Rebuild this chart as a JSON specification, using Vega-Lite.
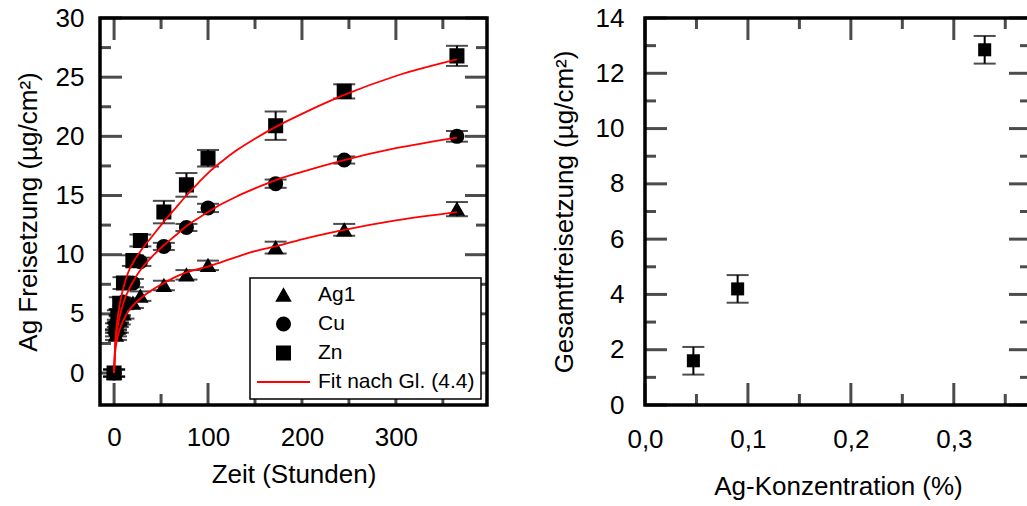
{
  "$schema": "https://vega.github.io/schema/vega-lite/v6.json",
  "padding": {"left": 13, "top": 3, "right": 0, "bottom": 0},
  "background": "white",
  "config": {
    "font": "Liberation Sans",
    "view": {"stroke": "black", "strokeWidth": 3.5},
    "axis": {
      "labelFont": "Liberation Sans", "titleFont": "Liberation Sans",
      "labelFontSize": 26, "titleFontSize": 26, "titleFontWeight": "normal",
      "labelColor": "black", "titleColor": "black",
      "domain": false, "grid": false, "ticks": false, "tickSize": 0,
      "labelFlush": false, "labelOverlap": false
    },
    "legend": {
      "labelFont": "Liberation Sans", "labelFontSize": 21, "labelColor": "black",
      "orient": "bottom-right", "offset": 6, "padding": 6, "rowPadding": 7, "clipHeight": 22,
      "labelOffset": 7, "strokeColor": "black", "fillColor": "white",
      "symbolStrokeWidth": 2, "strokeWidth": 1.5
    }
  },
  "datasets": {
    "pts": [
      {"series": "Zn", "t": 0, "y": 0, "lo": -0.3, "hi": 0.3},
      {"series": "Zn", "t": 2, "y": 3.8, "lo": 3.4, "hi": 4.2},
      {"series": "Zn", "t": 4, "y": 4.8, "lo": 4.3, "hi": 5.3},
      {"series": "Zn", "t": 6, "y": 5.9, "lo": 5.4, "hi": 6.4},
      {"series": "Zn", "t": 10, "y": 7.6, "lo": 7.1, "hi": 8.1},
      {"series": "Zn", "t": 20, "y": 9.5, "lo": 9.05, "hi": 9.95},
      {"series": "Zn", "t": 28, "y": 11.2, "lo": 10.7, "hi": 11.7},
      {"series": "Zn", "t": 53, "y": 13.6, "lo": 12.65, "hi": 14.55},
      {"series": "Zn", "t": 77, "y": 15.9, "lo": 14.9, "hi": 16.9},
      {"series": "Zn", "t": 100, "y": 18.15, "lo": 17.45, "hi": 18.85},
      {"series": "Zn", "t": 172, "y": 20.9, "lo": 19.7, "hi": 22.1},
      {"series": "Zn", "t": 245, "y": 23.8, "lo": 23.2, "hi": 24.4},
      {"series": "Zn", "t": 365, "y": 26.8, "lo": 25.95, "hi": 27.65},
      {"series": "Cu", "t": 0, "y": 0, "lo": -0.3, "hi": 0.3},
      {"series": "Cu", "t": 2, "y": 3.4, "lo": 3.1, "hi": 3.7},
      {"series": "Cu", "t": 4, "y": 4.2, "lo": 3.9, "hi": 4.5},
      {"series": "Cu", "t": 6, "y": 5.1, "lo": 4.8, "hi": 5.4},
      {"series": "Cu", "t": 10, "y": 6.0, "lo": 5.7, "hi": 6.3},
      {"series": "Cu", "t": 20, "y": 7.6, "lo": 7.25, "hi": 7.95},
      {"series": "Cu", "t": 28, "y": 9.4, "lo": 9.05, "hi": 9.75},
      {"series": "Cu", "t": 53, "y": 10.7, "lo": 10.4, "hi": 11.0},
      {"series": "Cu", "t": 77, "y": 12.3, "lo": 12.0, "hi": 12.6},
      {"series": "Cu", "t": 100, "y": 13.95, "lo": 13.6, "hi": 14.3},
      {"series": "Cu", "t": 172, "y": 16.0, "lo": 15.65, "hi": 16.35},
      {"series": "Cu", "t": 245, "y": 18.0, "lo": 17.7, "hi": 18.3},
      {"series": "Cu", "t": 365, "y": 20.0, "lo": 19.55, "hi": 20.45},
      {"series": "Ag1", "t": 0, "y": 0, "lo": -0.3, "hi": 0.3},
      {"series": "Ag1", "t": 2, "y": 3.2, "lo": 2.8, "hi": 3.6},
      {"series": "Ag1", "t": 4, "y": 3.8, "lo": 3.4, "hi": 4.2},
      {"series": "Ag1", "t": 6, "y": 4.5, "lo": 4.1, "hi": 4.9},
      {"series": "Ag1", "t": 10, "y": 5.0, "lo": 4.6, "hi": 5.4},
      {"series": "Ag1", "t": 20, "y": 5.9, "lo": 5.5, "hi": 6.3},
      {"series": "Ag1", "t": 28, "y": 6.5, "lo": 6.1, "hi": 6.9},
      {"series": "Ag1", "t": 53, "y": 7.4, "lo": 7.0, "hi": 7.8},
      {"series": "Ag1", "t": 77, "y": 8.3, "lo": 7.9, "hi": 8.7},
      {"series": "Ag1", "t": 100, "y": 9.1, "lo": 8.7, "hi": 9.5},
      {"series": "Ag1", "t": 172, "y": 10.6, "lo": 10.1, "hi": 11.1},
      {"series": "Ag1", "t": 245, "y": 12.1, "lo": 11.6, "hi": 12.6},
      {"series": "Ag1", "t": 365, "y": 13.85, "lo": 13.25, "hi": 14.45}
    ],
    "fit": [
      {"series": "Zn", "t": 0, "y": 0}, {"series": "Zn", "t": 1, "y": 2.3}, {"series": "Zn", "t": 2, "y": 3.4},
      {"series": "Zn", "t": 4, "y": 4.8}, {"series": "Zn", "t": 6, "y": 5.8}, {"series": "Zn", "t": 8, "y": 6.6},
      {"series": "Zn", "t": 12, "y": 7.8}, {"series": "Zn", "t": 16, "y": 8.7}, {"series": "Zn", "t": 20, "y": 9.3},
      {"series": "Zn", "t": 28, "y": 10.3}, {"series": "Zn", "t": 40, "y": 11.5}, {"series": "Zn", "t": 53, "y": 12.8},
      {"series": "Zn", "t": 65, "y": 13.9}, {"series": "Zn", "t": 77, "y": 15.0}, {"series": "Zn", "t": 90, "y": 16.1},
      {"series": "Zn", "t": 100, "y": 16.9}, {"series": "Zn", "t": 115, "y": 17.9}, {"series": "Zn", "t": 130, "y": 18.8},
      {"series": "Zn", "t": 150, "y": 19.8}, {"series": "Zn", "t": 172, "y": 20.8}, {"series": "Zn", "t": 200, "y": 21.9},
      {"series": "Zn", "t": 245, "y": 23.5}, {"series": "Zn", "t": 300, "y": 25.1}, {"series": "Zn", "t": 365, "y": 26.5},
      {"series": "Cu", "t": 0, "y": 0}, {"series": "Cu", "t": 1, "y": 2.0}, {"series": "Cu", "t": 2, "y": 2.9},
      {"series": "Cu", "t": 4, "y": 4.0}, {"series": "Cu", "t": 6, "y": 4.8}, {"series": "Cu", "t": 8, "y": 5.4},
      {"series": "Cu", "t": 12, "y": 6.4}, {"series": "Cu", "t": 16, "y": 7.1}, {"series": "Cu", "t": 20, "y": 7.7},
      {"series": "Cu", "t": 28, "y": 8.7}, {"series": "Cu", "t": 40, "y": 9.8}, {"series": "Cu", "t": 53, "y": 10.8},
      {"series": "Cu", "t": 65, "y": 11.6}, {"series": "Cu", "t": 77, "y": 12.4}, {"series": "Cu", "t": 90, "y": 13.1},
      {"series": "Cu", "t": 100, "y": 13.6}, {"series": "Cu", "t": 115, "y": 14.3}, {"series": "Cu", "t": 130, "y": 14.9},
      {"series": "Cu", "t": 150, "y": 15.6}, {"series": "Cu", "t": 172, "y": 16.3}, {"series": "Cu", "t": 200, "y": 17.0},
      {"series": "Cu", "t": 245, "y": 18.0}, {"series": "Cu", "t": 300, "y": 19.0}, {"series": "Cu", "t": 365, "y": 19.9},
      {"series": "Ag1", "t": 0, "y": 0}, {"series": "Ag1", "t": 1, "y": 1.6}, {"series": "Ag1", "t": 2, "y": 2.3},
      {"series": "Ag1", "t": 4, "y": 3.1}, {"series": "Ag1", "t": 6, "y": 3.7}, {"series": "Ag1", "t": 8, "y": 4.1},
      {"series": "Ag1", "t": 12, "y": 4.8}, {"series": "Ag1", "t": 16, "y": 5.3}, {"series": "Ag1", "t": 20, "y": 5.7},
      {"series": "Ag1", "t": 28, "y": 6.3}, {"series": "Ag1", "t": 40, "y": 7.0}, {"series": "Ag1", "t": 53, "y": 7.6},
      {"series": "Ag1", "t": 65, "y": 8.1}, {"series": "Ag1", "t": 77, "y": 8.5}, {"series": "Ag1", "t": 90, "y": 8.8},
      {"series": "Ag1", "t": 100, "y": 9.0}, {"series": "Ag1", "t": 115, "y": 9.4}, {"series": "Ag1", "t": 130, "y": 9.8},
      {"series": "Ag1", "t": 150, "y": 10.3}, {"series": "Ag1", "t": 172, "y": 10.7}, {"series": "Ag1", "t": 200, "y": 11.3},
      {"series": "Ag1", "t": 245, "y": 12.1}, {"series": "Ag1", "t": 300, "y": 12.9}, {"series": "Ag1", "t": 365, "y": 13.6}
    ],
    "conc": [
      {"c": 0.047, "y": 1.6, "lo": 1.1, "hi": 2.1},
      {"c": 0.09, "y": 4.2, "lo": 3.7, "hi": 4.7},
      {"c": 0.33, "y": 12.85, "lo": 12.35, "hi": 13.35}
    ],
    "xMajL": [{"v": 0}, {"v": 100}, {"v": 200}, {"v": 300}],
    "xMinL": [{"v": 50}, {"v": 150}, {"v": 250}, {"v": 350}],
    "yMajL": [{"v": 0}, {"v": 5}, {"v": 10}, {"v": 15}, {"v": 20}, {"v": 25}, {"v": 30}],
    "yMinL": [{"v": 2.5}, {"v": 7.5}, {"v": 12.5}, {"v": 17.5}, {"v": 22.5}, {"v": 27.5}],
    "xMajR": [{"v": 0}, {"v": 0.1}, {"v": 0.2}, {"v": 0.3}],
    "xMinR": [{"v": 0.05}, {"v": 0.15}, {"v": 0.25}, {"v": 0.35}],
    "yMajR": [{"v": 0}, {"v": 2}, {"v": 4}, {"v": 6}, {"v": 8}, {"v": 10}, {"v": 12}, {"v": 14}],
    "yMinR": [{"v": 1}, {"v": 3}, {"v": 5}, {"v": 7}, {"v": 9}, {"v": 11}, {"v": 13}]
  },
  "resolve": {
    "scale": {"fill": "independent", "stroke": "independent", "shape": "independent", "size": "independent"},
    "legend": {"fill": "independent", "stroke": "independent", "shape": "independent", "size": "independent"}
  },
  "spacing": 60,
  "hconcat": [
    {
      "width": 387,
      "height": 387,
      "layer": [
        {
          "data": {"name": "pts"},
          "mark": {"type": "rule", "color": "black", "strokeWidth": 2},
          "encoding": {
            "x": {"field": "t", "type": "quantitative", "scale": {"domain": [-15, 397], "nice": false, "zero": false},
                  "axis": {"orient": "bottom", "values": [0, 100, 200, 300], "labelPadding": 19, "title": "Zeit (Stunden)", "titlePadding": 11}},
            "y": {"field": "lo", "type": "quantitative", "scale": {"domain": [-2.7, 30], "nice": false, "zero": false},
                  "axis": {"orient": "left", "values": [0, 5, 10, 15, 20, 25, 30], "labelPadding": 16, "title": "Ag Freisetzung (µg/cm²)", "titlePadding": 14}},
            "y2": {"field": "hi"}
          }
        },
        {"data": {"name": "xMajL"}, "mark": {"type": "tick", "orient": "vertical", "color": "black", "size": 22, "thickness": 3, "yOffset": -11},
         "encoding": {"x": {"field": "v", "type": "quantitative"}, "y": {"datum": -2.7, "type": "quantitative"}}},
        {"data": {"name": "xMajL"}, "mark": {"type": "tick", "orient": "vertical", "color": "black", "size": 22, "thickness": 3, "yOffset": 11},
         "encoding": {"x": {"field": "v", "type": "quantitative"}, "y": {"datum": 30, "type": "quantitative"}}},
        {"data": {"name": "xMinL"}, "mark": {"type": "tick", "orient": "vertical", "color": "black", "size": 11, "thickness": 3, "yOffset": -5.5},
         "encoding": {"x": {"field": "v", "type": "quantitative"}, "y": {"datum": -2.7, "type": "quantitative"}}},
        {"data": {"name": "xMinL"}, "mark": {"type": "tick", "orient": "vertical", "color": "black", "size": 11, "thickness": 3, "yOffset": 5.5},
         "encoding": {"x": {"field": "v", "type": "quantitative"}, "y": {"datum": 30, "type": "quantitative"}}},
        {"data": {"name": "yMajL"}, "mark": {"type": "tick", "orient": "horizontal", "color": "black", "size": 22, "thickness": 3, "xOffset": 11},
         "encoding": {"x": {"datum": -15, "type": "quantitative"}, "y": {"field": "v", "type": "quantitative"}}},
        {"data": {"name": "yMajL"}, "mark": {"type": "tick", "orient": "horizontal", "color": "black", "size": 22, "thickness": 3, "xOffset": -11},
         "encoding": {"x": {"datum": 397, "type": "quantitative"}, "y": {"field": "v", "type": "quantitative"}}},
        {"data": {"name": "yMinL"}, "mark": {"type": "tick", "orient": "horizontal", "color": "black", "size": 11, "thickness": 3, "xOffset": 5.5},
         "encoding": {"x": {"datum": -15, "type": "quantitative"}, "y": {"field": "v", "type": "quantitative"}}},
        {"data": {"name": "yMinL"}, "mark": {"type": "tick", "orient": "horizontal", "color": "black", "size": 11, "thickness": 3, "xOffset": -5.5},
         "encoding": {"x": {"datum": 397, "type": "quantitative"}, "y": {"field": "v", "type": "quantitative"}}},
        {
          "data": {"name": "pts"},
          "mark": {"type": "tick", "orient": "horizontal", "color": "black", "size": 22, "thickness": 2},
          "encoding": {"x": {"field": "t", "type": "quantitative"}, "y": {"field": "lo", "type": "quantitative"}}
        },
        {
          "data": {"name": "pts"},
          "mark": {"type": "tick", "orient": "horizontal", "color": "black", "size": 22, "thickness": 2},
          "encoding": {"x": {"field": "t", "type": "quantitative"}, "y": {"field": "hi", "type": "quantitative"}}
        },
        {
          "data": {"name": "pts"},
          "mark": {"type": "point", "filled": true, "opacity": 1},
          "encoding": {
            "x": {"field": "t", "type": "quantitative"},
            "y": {"field": "y", "type": "quantitative"},
            "fill": {"field": "series", "type": "nominal",
                     "scale": {"domain": ["Ag1", "Cu", "Zn", "Fit nach Gl. (4.4)"], "range": ["black", "black", "black", "#ff0000"]},
                     "legend": {"title": null}},
            "stroke": {"field": "series", "type": "nominal",
                       "scale": {"domain": ["Ag1", "Cu", "Zn", "Fit nach Gl. (4.4)"], "range": ["black", "black", "black", "#ff0000"]},
                       "legend": {"title": null}},
            "shape": {"field": "series", "type": "nominal",
                      "scale": {"domain": ["Ag1", "Cu", "Zn", "Fit nach Gl. (4.4)"], "range": ["triangle-up", "circle", "square", "stroke"]},
                      "legend": {"title": null}},
            "size": {"field": "series", "type": "nominal",
                     "scale": {"type": "ordinal", "domain": ["Ag1", "Cu", "Zn", "Fit nach Gl. (4.4)"], "range": [170, 170, 170, 2809]},
                     "legend": {"title": null}}
          }
        },
        {
          "data": {"name": "fit"},
          "mark": {"type": "line", "color": "#ff0000", "strokeWidth": 1.8, "interpolate": "monotone"},
          "encoding": {
            "x": {"field": "t", "type": "quantitative"},
            "y": {"field": "y", "type": "quantitative"},
            "detail": {"field": "series"}
          }
        }
      ]
    },
    {
      "width": 386,
      "height": 387,
      "layer": [
        {
          "data": {"name": "conc"},
          "mark": {"type": "rule", "color": "black", "strokeWidth": 2},
          "encoding": {
            "x": {"field": "c", "type": "quantitative", "scale": {"domain": [0, 0.375], "nice": false, "zero": false},
                  "axis": {"orient": "bottom", "values": [0, 0.1, 0.2, 0.3], "labelPadding": 21,
                           "labelExpr": "replace(format(datum.value, '.1f'), '.', ',')", "title": "Ag-Konzentration (%)", "titlePadding": 21}},
            "y": {"field": "lo", "type": "quantitative", "scale": {"domain": [0, 14], "nice": false, "zero": false},
                  "axis": {"orient": "left", "values": [0, 2, 4, 6, 8, 10, 12, 14], "labelPadding": 21,
                           "title": "Gesamtfreisetzung (µg/cm²)", "titlePadding": 18}},
            "y2": {"field": "hi"}
          }
        },
        {"data": {"name": "xMajR"}, "mark": {"type": "tick", "orient": "vertical", "color": "black", "size": 22, "thickness": 3, "yOffset": -11},
         "encoding": {"x": {"field": "v", "type": "quantitative"}, "y": {"datum": 0, "type": "quantitative"}}},
        {"data": {"name": "xMajR"}, "mark": {"type": "tick", "orient": "vertical", "color": "black", "size": 22, "thickness": 3, "yOffset": 11},
         "encoding": {"x": {"field": "v", "type": "quantitative"}, "y": {"datum": 14, "type": "quantitative"}}},
        {"data": {"name": "xMinR"}, "mark": {"type": "tick", "orient": "vertical", "color": "black", "size": 11, "thickness": 3, "yOffset": -5.5},
         "encoding": {"x": {"field": "v", "type": "quantitative"}, "y": {"datum": 0, "type": "quantitative"}}},
        {"data": {"name": "xMinR"}, "mark": {"type": "tick", "orient": "vertical", "color": "black", "size": 11, "thickness": 3, "yOffset": 5.5},
         "encoding": {"x": {"field": "v", "type": "quantitative"}, "y": {"datum": 14, "type": "quantitative"}}},
        {"data": {"name": "yMajR"}, "mark": {"type": "tick", "orient": "horizontal", "color": "black", "size": 22, "thickness": 3, "xOffset": 11},
         "encoding": {"x": {"datum": 0, "type": "quantitative"}, "y": {"field": "v", "type": "quantitative"}}},
        {"data": {"name": "yMajR"}, "mark": {"type": "tick", "orient": "horizontal", "color": "black", "size": 22, "thickness": 3, "xOffset": -11},
         "encoding": {"x": {"datum": 0.375, "type": "quantitative"}, "y": {"field": "v", "type": "quantitative"}}},
        {"data": {"name": "yMinR"}, "mark": {"type": "tick", "orient": "horizontal", "color": "black", "size": 11, "thickness": 3, "xOffset": 5.5},
         "encoding": {"x": {"datum": 0, "type": "quantitative"}, "y": {"field": "v", "type": "quantitative"}}},
        {"data": {"name": "yMinR"}, "mark": {"type": "tick", "orient": "horizontal", "color": "black", "size": 11, "thickness": 3, "xOffset": -5.5},
         "encoding": {"x": {"datum": 0.375, "type": "quantitative"}, "y": {"field": "v", "type": "quantitative"}}},
        {
          "data": {"name": "conc"},
          "mark": {"type": "tick", "orient": "horizontal", "color": "black", "size": 22, "thickness": 2},
          "encoding": {"x": {"field": "c", "type": "quantitative"}, "y": {"field": "lo", "type": "quantitative"}}
        },
        {
          "data": {"name": "conc"},
          "mark": {"type": "tick", "orient": "horizontal", "color": "black", "size": 22, "thickness": 2},
          "encoding": {"x": {"field": "c", "type": "quantitative"}, "y": {"field": "hi", "type": "quantitative"}}
        },
        {
          "data": {"name": "conc"},
          "mark": {"type": "point", "shape": "square", "filled": true, "opacity": 1, "color": "black", "size": 170},
          "encoding": {"x": {"field": "c", "type": "quantitative"}, "y": {"field": "y", "type": "quantitative"}}
        }
      ]
    }
  ]
}
